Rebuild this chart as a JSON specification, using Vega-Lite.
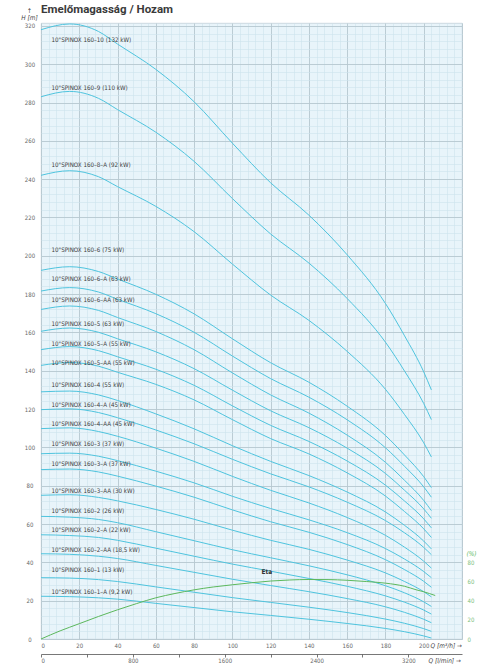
{
  "$schema": "https://vega.github.io/schema/vega-lite/v6.json",
  "width": 421,
  "height": 616,
  "autosize": "none",
  "padding": {"left": 41, "top": 23, "right": 34, "bottom": 25},
  "background": "white",
  "title": {"text": "Emelőmagasság / Hozam", "anchor": "start", "frame": "group", "font": "Roboto", "fontSize": 11.5, "fontWeight": "bold", "color": "#3a3a3a", "baseline": "alphabetic", "offset": 10, "dy": 27},
  "config": {
    "font": "Liberation Sans Narrow, DejaVu Sans Condensed, Roboto Condensed, Roboto, sans-serif",
    "view": {"fill": "#e8f4fa", "stroke": "#c3d2d9", "strokeWidth": 0.8}
  },
  "datasets": {
    "curves": [
      {"p":"160-10","q":0,"h":318},{"p":"160-10","q":15,"h":321},{"p":"160-10","q":30,"h":317.1},{"p":"160-10","q":40,"h":310.5},{"p":"160-10","q":60,"h":297.3},{"p":"160-10","q":80,"h":280.4},{"p":"160-10","q":100,"h":258.8},{"p":"160-10","q":120,"h":238.1},{"p":"160-10","q":140,"h":221.2},{"p":"160-10","q":160,"h":200.5},{"p":"160-10","q":180,"h":175.1},{"p":"160-10","q":190,"h":158.2},{"p":"160-10","q":200,"h":139.4},{"p":"160-10","q":204,"h":130},
      {"p":"160-9","q":0,"h":283},{"p":"160-9","q":15,"h":285.8},{"p":"160-9","q":30,"h":282.2},{"p":"160-9","q":40,"h":276.3},{"p":"160-9","q":60,"h":264.5},{"p":"160-9","q":80,"h":249.3},{"p":"160-9","q":100,"h":229.9},{"p":"160-9","q":120,"h":211.4},{"p":"160-9","q":140,"h":196.2},{"p":"160-9","q":160,"h":177.7},{"p":"160-9","q":180,"h":154.9},{"p":"160-9","q":190,"h":139.8},{"p":"160-9","q":200,"h":122.9},{"p":"160-9","q":204,"h":114.5},
      {"p":"160-8-A","q":0,"h":242},{"p":"160-8-A","q":15,"h":244.4},{"p":"160-8-A","q":30,"h":241.3},{"p":"160-8-A","q":40,"h":236.1},{"p":"160-8-A","q":60,"h":225.8},{"p":"160-8-A","q":80,"h":212.6},{"p":"160-8-A","q":100,"h":195.7},{"p":"160-8-A","q":120,"h":179.5},{"p":"160-8-A","q":140,"h":166.3},{"p":"160-8-A","q":160,"h":150.1},{"p":"160-8-A","q":180,"h":130.3},{"p":"160-8-A","q":190,"h":117.1},{"p":"160-8-A","q":200,"h":102.4},{"p":"160-8-A","q":204,"h":95},
      {"p":"160-6","q":0,"h":192.4},{"p":"160-6","q":15,"h":194.3},{"p":"160-6","q":30,"h":191.8},{"p":"160-6","q":40,"h":187.9},{"p":"160-6","q":60,"h":179.9},{"p":"160-6","q":80,"h":169.7},{"p":"160-6","q":100,"h":156.7},{"p":"160-6","q":120,"h":144.2},{"p":"160-6","q":140,"h":134},{"p":"160-6","q":160,"h":121.5},{"p":"160-6","q":180,"h":106.2},{"p":"160-6","q":190,"h":96},{"p":"160-6","q":200,"h":84.7},{"p":"160-6","q":204,"h":79},
      {"p":"160-6-A","q":0,"h":181.6},{"p":"160-6-A","q":15,"h":183.4},{"p":"160-6-A","q":30,"h":181.1},{"p":"160-6-A","q":40,"h":177.3},{"p":"160-6-A","q":60,"h":169.8},{"p":"160-6-A","q":80,"h":160.1},{"p":"160-6-A","q":100,"h":147.7},{"p":"160-6-A","q":120,"h":135.9},{"p":"160-6-A","q":140,"h":126.2},{"p":"160-6-A","q":160,"h":114.4},{"p":"160-6-A","q":180,"h":99.8},{"p":"160-6-A","q":190,"h":90.1},{"p":"160-6-A","q":200,"h":79.4},{"p":"160-6-A","q":204,"h":74},
      {"p":"160-6-AA","q":0,"h":172},{"p":"160-6-AA","q":15,"h":173.8},{"p":"160-6-AA","q":30,"h":171.5},{"p":"160-6-AA","q":40,"h":167.8},{"p":"160-6-AA","q":60,"h":160.5},{"p":"160-6-AA","q":80,"h":151},{"p":"160-6-AA","q":100,"h":138.9},{"p":"160-6-AA","q":120,"h":127.4},{"p":"160-6-AA","q":140,"h":117.9},{"p":"160-6-AA","q":160,"h":106.4},{"p":"160-6-AA","q":180,"h":92.2},{"p":"160-6-AA","q":190,"h":82.8},{"p":"160-6-AA","q":200,"h":72.3},{"p":"160-6-AA","q":204,"h":67},
      {"p":"160-5","q":0,"h":160.6},{"p":"160-5","q":15,"h":162.3},{"p":"160-5","q":30,"h":160.1},{"p":"160-5","q":40,"h":156.7},{"p":"160-5","q":60,"h":149.9},{"p":"160-5","q":80,"h":141.1},{"p":"160-5","q":100,"h":129.9},{"p":"160-5","q":120,"h":119.1},{"p":"160-5","q":140,"h":110.3},{"p":"160-5","q":160,"h":99.6},{"p":"160-5","q":180,"h":86.4},{"p":"160-5","q":190,"h":77.6},{"p":"160-5","q":200,"h":67.9},{"p":"160-5","q":204,"h":63},
      {"p":"160-5-A","q":0,"h":151},{"p":"160-5-A","q":15,"h":152.6},{"p":"160-5-A","q":30,"h":150.5},{"p":"160-5-A","q":40,"h":147.3},{"p":"160-5-A","q":60,"h":140.8},{"p":"160-5-A","q":80,"h":132.4},{"p":"160-5-A","q":100,"h":121.7},{"p":"160-5-A","q":120,"h":111.5},{"p":"160-5-A","q":140,"h":103.1},{"p":"160-5-A","q":160,"h":92.9},{"p":"160-5-A","q":180,"h":80.3},{"p":"160-5-A","q":190,"h":72},{"p":"160-5-A","q":200,"h":62.7},{"p":"160-5-A","q":204,"h":58},
      {"p":"160-5-AA","q":0,"h":142.8},{"p":"160-5-AA","q":15,"h":144.3},{"p":"160-5-AA","q":30,"h":142.4},{"p":"160-5-AA","q":40,"h":139.2},{"p":"160-5-AA","q":60,"h":132.9},{"p":"160-5-AA","q":80,"h":124.8},{"p":"160-5-AA","q":100,"h":114.5},{"p":"160-5-AA","q":120,"h":104.6},{"p":"160-5-AA","q":140,"h":96.6},{"p":"160-5-AA","q":160,"h":86.7},{"p":"160-5-AA","q":180,"h":74.6},{"p":"160-5-AA","q":190,"h":66.5},{"p":"160-5-AA","q":200,"h":57.5},{"p":"160-5-AA","q":204,"h":53},
      {"p":"160-4","q":0,"h":129},{"p":"160-4","q":15,"h":129.4},{"p":"160-4","q":30,"h":127.4},{"p":"160-4","q":40,"h":124.5},{"p":"160-4","q":60,"h":117.5},{"p":"160-4","q":80,"h":109.7},{"p":"160-4","q":100,"h":100.9},{"p":"160-4","q":120,"h":92.7},{"p":"160-4","q":140,"h":85.3},{"p":"160-4","q":160,"h":76.7},{"p":"160-4","q":180,"h":66.3},{"p":"160-4","q":190,"h":59.3},{"p":"160-4","q":200,"h":51.1},{"p":"160-4","q":204,"h":47},
      {"p":"160-4-A","q":0,"h":119.7},{"p":"160-4-A","q":15,"h":120.1},{"p":"160-4-A","q":30,"h":118.2},{"p":"160-4-A","q":40,"h":115.5},{"p":"160-4-A","q":60,"h":109.1},{"p":"160-4-A","q":80,"h":101.9},{"p":"160-4-A","q":100,"h":93.8},{"p":"160-4-A","q":120,"h":86.2},{"p":"160-4-A","q":140,"h":79.4},{"p":"160-4-A","q":160,"h":71.4},{"p":"160-4-A","q":180,"h":61.8},{"p":"160-4-A","q":190,"h":55.4},{"p":"160-4-A","q":200,"h":47.8},{"p":"160-4-A","q":204,"h":44},
      {"p":"160-4-AA","q":0,"h":109.8},{"p":"160-4-AA","q":15,"h":110.2},{"p":"160-4-AA","q":30,"h":108.3},{"p":"160-4-AA","q":40,"h":105.8},{"p":"160-4-AA","q":60,"h":99.6},{"p":"160-4-AA","q":80,"h":92.7},{"p":"160-4-AA","q":100,"h":84.9},{"p":"160-4-AA","q":120,"h":77.6},{"p":"160-4-AA","q":140,"h":71},{"p":"160-4-AA","q":160,"h":63.4},{"p":"160-4-AA","q":180,"h":54.1},{"p":"160-4-AA","q":190,"h":47.9},{"p":"160-4-AA","q":200,"h":40.6},{"p":"160-4-AA","q":204,"h":37},
      {"p":"160-3","q":0,"h":96.7},{"p":"160-3","q":15,"h":97},{"p":"160-3","q":30,"h":95.4},{"p":"160-3","q":40,"h":93.1},{"p":"160-3","q":60,"h":87.6},{"p":"160-3","q":80,"h":81.5},{"p":"160-3","q":100,"h":74.5},{"p":"160-3","q":120,"h":68.1},{"p":"160-3","q":140,"h":62.2},{"p":"160-3","q":160,"h":55.5},{"p":"160-3","q":180,"h":47.2},{"p":"160-3","q":190,"h":41.7},{"p":"160-3","q":200,"h":35.2},{"p":"160-3","q":204,"h":32},
      {"p":"160-3-A","q":0,"h":88.4},{"p":"160-3-A","q":15,"h":88.7},{"p":"160-3-A","q":30,"h":87.2},{"p":"160-3-A","q":40,"h":85},{"p":"160-3-A","q":60,"h":79.8},{"p":"160-3-A","q":80,"h":74},{"p":"160-3-A","q":100,"h":67.4},{"p":"160-3-A","q":120,"h":61.2},{"p":"160-3-A","q":140,"h":55.7},{"p":"160-3-A","q":160,"h":49.3},{"p":"160-3-A","q":180,"h":41.4},{"p":"160-3-A","q":190,"h":36.2},{"p":"160-3-A","q":200,"h":30.1},{"p":"160-3-A","q":204,"h":27},
      {"p":"160-3-AA","q":0,"h":75},{"p":"160-3-AA","q":15,"h":75.3},{"p":"160-3-AA","q":30,"h":73.9},{"p":"160-3-AA","q":40,"h":72.1},{"p":"160-3-AA","q":60,"h":67.6},{"p":"160-3-AA","q":80,"h":62.5},{"p":"160-3-AA","q":100,"h":56.8},{"p":"160-3-AA","q":120,"h":51.5},{"p":"160-3-AA","q":140,"h":46.8},{"p":"160-3-AA","q":160,"h":41.2},{"p":"160-3-AA","q":180,"h":34.5},{"p":"160-3-AA","q":190,"h":30},{"p":"160-3-AA","q":200,"h":24.7},{"p":"160-3-AA","q":204,"h":22},
      {"p":"160-2","q":0,"h":64},{"p":"160-2","q":15,"h":63.6},{"p":"160-2","q":30,"h":62.4},{"p":"160-2","q":40,"h":60.7},{"p":"160-2","q":60,"h":56},{"p":"160-2","q":80,"h":51.3},{"p":"160-2","q":100,"h":46.6},{"p":"160-2","q":120,"h":42.4},{"p":"160-2","q":140,"h":38.2},{"p":"160-2","q":160,"h":33.5},{"p":"160-2","q":180,"h":27.8},{"p":"160-2","q":190,"h":24.1},{"p":"160-2","q":200,"h":19.4},{"p":"160-2","q":204,"h":17},
      {"p":"160-2-A","q":0,"h":54.4},{"p":"160-2-A","q":15,"h":54},{"p":"160-2-A","q":30,"h":53},{"p":"160-2-A","q":40,"h":51.5},{"p":"160-2-A","q":60,"h":47.4},{"p":"160-2-A","q":80,"h":43.2},{"p":"160-2-A","q":100,"h":39.1},{"p":"160-2-A","q":120,"h":35.4},{"p":"160-2-A","q":140,"h":31.6},{"p":"160-2-A","q":160,"h":27.5},{"p":"160-2-A","q":180,"h":22.5},{"p":"160-2-A","q":190,"h":19.2},{"p":"160-2-A","q":200,"h":15.1},{"p":"160-2-A","q":204,"h":13},
      {"p":"160-2-AA","q":0,"h":44.5},{"p":"160-2-AA","q":15,"h":44.2},{"p":"160-2-AA","q":30,"h":43.2},{"p":"160-2-AA","q":40,"h":42},{"p":"160-2-AA","q":60,"h":38.4},{"p":"160-2-AA","q":80,"h":34.8},{"p":"160-2-AA","q":100,"h":31.2},{"p":"160-2-AA","q":120,"h":27.9},{"p":"160-2-AA","q":140,"h":24.7},{"p":"160-2-AA","q":160,"h":21.1},{"p":"160-2-AA","q":180,"h":16.8},{"p":"160-2-AA","q":190,"h":13.9},{"p":"160-2-AA","q":200,"h":10.3},{"p":"160-2-AA","q":204,"h":8.5},
      {"p":"160-1","q":0,"h":32},{"p":"160-1","q":15,"h":31.8},{"p":"160-1","q":30,"h":31},{"p":"160-1","q":40,"h":30},{"p":"160-1","q":60,"h":27.2},{"p":"160-1","q":80,"h":24.4},{"p":"160-1","q":100,"h":21.6},{"p":"160-1","q":120,"h":19.1},{"p":"160-1","q":140,"h":16.6},{"p":"160-1","q":160,"h":13.8},{"p":"160-1","q":180,"h":10.4},{"p":"160-1","q":190,"h":8.2},{"p":"160-1","q":200,"h":5.4},{"p":"160-1","q":204,"h":4},
      {"p":"160-1-A","q":0,"h":22.3},{"p":"160-1-A","q":15,"h":22.1},{"p":"160-1-A","q":30,"h":21.5},{"p":"160-1-A","q":40,"h":20.8},{"p":"160-1-A","q":60,"h":18.6},{"p":"160-1-A","q":80,"h":16.4},{"p":"160-1-A","q":100,"h":14.2},{"p":"160-1-A","q":120,"h":12.3},{"p":"160-1-A","q":140,"h":10.3},{"p":"160-1-A","q":160,"h":8.1},{"p":"160-1-A","q":180,"h":5.5},{"p":"160-1-A","q":190,"h":3.8},{"p":"160-1-A","q":200,"h":1.6},{"p":"160-1-A","q":204,"h":0.5}
    ],
    "labels": [
      {"t":"10\"SPINOX 160–10 (132 kW)","lq":5.5,"lh":312.6},
      {"t":"10\"SPINOX 160–9 (110 kW)","lq":5.5,"lh":287.8},
      {"t":"10\"SPINOX 160–8–A (92 kW)","lq":5.5,"lh":247.6},
      {"t":"10\"SPINOX 160–6 (75 kW)","lq":5.5,"lh":202.9},
      {"t":"10\"SPINOX 160–6–A (63 kW)","lq":5.5,"lh":188.1},
      {"t":"10\"SPINOX 160–6–AA (63 kW)","lq":5.5,"lh":176.8},
      {"t":"10\"SPINOX 160–5 (63 kW)","lq":5.5,"lh":164.5},
      {"t":"10\"SPINOX 160–5–A (55 kW)","lq":5.5,"lh":154.1},
      {"t":"10\"SPINOX 160–5–AA (55 kW)","lq":5.5,"lh":144.2},
      {"t":"10\"SPINOX 160–4 (55 kW)","lq":5.5,"lh":132.7},
      {"t":"10\"SPINOX 160–4–A (45 kW)","lq":5.5,"lh":122.3},
      {"t":"10\"SPINOX 160–4–AA (45 kW)","lq":5.5,"lh":112},
      {"t":"10\"SPINOX 160–3 (37 kW)","lq":5.5,"lh":101.8},
      {"t":"10\"SPINOX 160–3–A (37 kW)","lq":5.5,"lh":91.1},
      {"t":"10\"SPINOX 160–3–AA (30 kW)","lq":5.5,"lh":77},
      {"t":"10\"SPINOX 160–2 (26 kW)","lq":5.5,"lh":66.7},
      {"t":"10\"SPINOX 160–2–A (22 kW)","lq":5.5,"lh":56.7},
      {"t":"10\"SPINOX 160–2–AA (18,5 kW)","lq":5.5,"lh":46.2},
      {"t":"10\"SPINOX 160–1 (13 kW)","lq":5.5,"lh":36.1},
      {"t":"10\"SPINOX 160–1–A (9,2 kW)","lq":5.5,"lh":24.4}
    ],
    "eta": [
      {"q":0,"e":0},{"q":10,"e":8.5},{"q":20,"e":16},{"q":30,"e":23.5},{"q":40,"e":30.5},{"q":50,"e":37},{"q":60,"e":43},{"q":70,"e":47.5},{"q":80,"e":51.3},{"q":90,"e":54.3},{"q":100,"e":56.6},{"q":110,"e":58.7},{"q":120,"e":60.5},{"q":130,"e":61.6},{"q":140,"e":62.1},{"q":150,"e":62},{"q":160,"e":61.3},{"q":170,"e":60},{"q":180,"e":58.3},{"q":190,"e":55},{"q":196,"e":51.4},{"q":200,"e":49.3},{"q":206,"e":45.4}
    ],
    "lmin": [{"l":0},{"l":3200}]
  },
  "layer": [
    {
      "data": {"name": "curves"},
      "mark": {"type": "line", "interpolate": "monotone", "color": "#4fc4de", "strokeWidth": 1},
      "encoding": {
        "x": {"field": "q", "type": "quantitative", "scale": {"domain": [0, 220], "nice": false, "zero": false},
          "axis": {"orient": "bottom", "values": [0,4,8,12,16,20,24,28,32,36,40,44,48,52,56,60,64,68,72,76,80,84,88,92,96,100,104,108,112,116,120,124,128,132,136,140,144,148,152,156,160,164,168,172,176,180,184,188,192,196,200,204,208,212,216,220],
            "grid": true, "gridColor": "#cde2ec", "gridWidth": 0.6, "labels": false, "ticks": false, "domain": false, "title": null}},
        "y": {"field": "h", "type": "quantitative", "scale": {"domain": [0, 321.5], "nice": false, "zero": false},
          "axis": {"orient": "left", "values": [0,4,8,12,16,20,24,28,32,36,40,44,48,52,56,60,64,68,72,76,80,84,88,92,96,100,104,108,112,116,120,124,128,132,136,140,144,148,152,156,160,164,168,172,176,180,184,188,192,196,200,204,208,212,216,220,224,228,232,236,240,244,248,252,256,260,264,268,272,276,280,284,288,292,296,300,304,308,312,316,320],
            "grid": true, "gridColor": "#cde2ec", "gridWidth": 0.6, "labels": false, "ticks": false, "domain": false, "title": null}},
        "detail": {"field": "p", "type": "nominal"}
      }
    },
    {
      "data": {"name": "labels"},
      "mark": {"type": "text", "align": "left", "baseline": "middle", "fontSize": 6.2, "color": "#3d3d3d"},
      "encoding": {
        "x": {"field": "lq", "type": "quantitative", "scale": {"domain": [0, 220], "nice": false, "zero": false},
          "axis": {"orient": "bottom", "values": [0,20,40,60,80,100,120,140,160,180,200,220], "labelExpr": "datum.value <= 200 ? datum.label : ''",
            "grid": true, "gridColor": "#b4c4cc", "gridWidth": 0.8, "ticks": false, "domain": false, "labelFontSize": 6, "labelColor": "#666", "labelPadding": 3,
            "title": "Q [m³/h]  →", "titleFontSize": 6.5, "titleFontWeight": "normal", "titleFontStyle": "italic", "titleColor": "#444", "titleAngle": 0, "titleAlign": "left", "titleBaseline": "middle", "titleX": 389, "titleY": 6}},
        "y": {"field": "lh", "type": "quantitative", "scale": {"domain": [0, 321.5], "nice": false, "zero": false},
          "axis": {"orient": "left", "values": [0,20,40,60,80,100,120,140,160,180,200,220,240,260,280,300,320],
            "grid": true, "gridColor": "#b4c4cc", "gridWidth": 0.8, "ticks": false, "domain": false, "labelFontSize": 6, "labelColor": "#666", "labelAlign": "center", "labelPadding": 11.5,
            "title": ["↑", "H [m]"], "titleFontSize": 6.5, "titleFontWeight": "normal", "titleFontStyle": "italic", "titleColor": "#444", "titleAngle": 0, "titleAlign": "center", "titleBaseline": "bottom", "titleX": -12, "titleY": -10, "titleLineHeight": 7}},
        "text": {"field": "t"}
      }
    },
    {
      "data": {"name": "eta"},
      "mark": {"type": "line", "interpolate": "monotone", "color": "#5cb85c", "strokeWidth": 1},
      "encoding": {
        "x": {"field": "q", "type": "quantitative", "scale": {"domain": [0, 220], "nice": false, "zero": false}, "axis": null},
        "y": {"field": "e", "type": "quantitative", "scale": {"domain": [0, 643], "nice": false, "zero": false},
          "axis": {"orient": "right", "values": [0,20,40,60,80], "grid": false, "ticks": false, "domain": false, "labelFontSize": 6, "labelColor": "#7cc07c", "labelPadding": 5,
            "title": "(%)", "titleFontSize": 6.5, "titleFontWeight": "normal", "titleFontStyle": "italic", "titleColor": "#5cb85c", "titleAngle": 0, "titleAlign": "left", "titleBaseline": "middle", "titleX": 4, "titleY": 530}}
      }
    },
    {
      "data": {"values": [{"q": 118, "e": 66.5, "t": "Eta"}]},
      "mark": {"type": "text", "align": "center", "baseline": "bottom", "fontSize": 6.5, "fontWeight": "bold", "color": "#333"},
      "encoding": {
        "x": {"field": "q", "type": "quantitative", "scale": {"domain": [0, 220], "nice": false, "zero": false}, "axis": null},
        "y": {"field": "e", "type": "quantitative", "scale": {"domain": [0, 643], "nice": false, "zero": false}, "axis": null},
        "text": {"field": "t"}
      }
    },
    {
      "data": {"name": "lmin"},
      "mark": {"type": "point", "opacity": 0},
      "encoding": {
        "x": {"field": "l", "type": "quantitative", "scale": {"domain": [0, 3666.67], "nice": false, "zero": false},
          "axis": {"orient": "bottom", "offset": 15, "values": [0,400,800,1200,1600,2000,2400,2800,3200], "labelExpr": "datum.value % 800 == 0 ? datum.label : ''",
            "grid": false, "domain": true, "domainColor": "#555", "domainWidth": 0.8, "ticks": true, "tickColor": "#555", "tickSize": 3, "tickWidth": 0.8,
            "labelFontSize": 6, "labelColor": "#666", "labelPadding": 0.5, "format": "d",
            "title": "Q [l/min]  →", "titleFontSize": 6.5, "titleFontWeight": "normal", "titleFontStyle": "italic", "titleColor": "#444", "titleAngle": 0, "titleAlign": "left", "titleBaseline": "middle", "titleX": 387, "titleY": 6}}
      }
    }
  ],
  "resolve": {"scale": {"x": "independent", "y": "independent"}, "axis": {"x": "independent", "y": "independent"}}
}
